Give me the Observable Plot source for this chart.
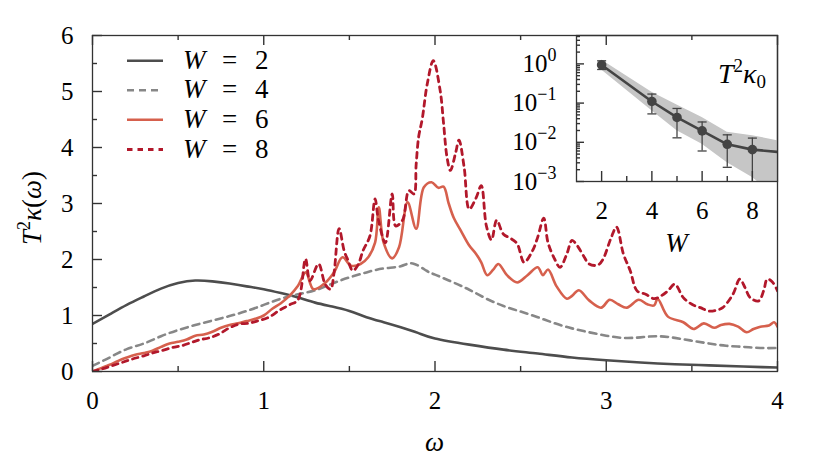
<!DOCTYPE html>
<html><head><meta charset="utf-8">
<script src="https://cdn.jsdelivr.net/npm/d3@7"></script>
<script src="https://cdn.jsdelivr.net/npm/@observablehq/plot@0.6"></script>
<style>
body{margin:0;background:#fff;}
#wrap{position:relative;width:830px;height:466px;overflow:hidden;}
#wrap svg{position:absolute;}
</style></head><body><div id="wrap"></div>
<script>
// ---- main panel data: T^2 kappa(omega) ----
const omegaW2 = [0,0.1,0.2,0.3,0.4,0.5,0.6,0.7,0.8,0.9,1.0,1.1,1.2,1.3,1.4,1.5,1.6,1.7,1.8,1.9,2.0,2.2,2.4,2.6,2.8,3.0,3.2,3.4,3.6,3.8,4.0];
const kappaW2 = [0.85,1.02,1.19,1.34,1.48,1.58,1.625,1.61,1.57,1.52,1.47,1.4,1.32,1.23,1.16,1.08,0.97,0.88,0.79,0.69,0.59,0.48,0.39,0.32,0.25,0.2,0.16,0.13,0.11,0.09,0.07];

const omegaW4 = [0,0.1,0.2,0.3,0.4,0.5,0.6,0.7,0.8,0.9,1.0,1.1,1.2,1.3,1.4,1.5,1.6,1.7,1.8,1.87,1.95,2.0,2.1,2.2,2.3,2.4,2.5,2.6,2.7,2.8,2.9,3.0,3.1,3.2,3.3,3.4,3.5,3.6,3.7,3.8,3.9,4.0];
const kappaW4 = [0.1,0.25,0.4,0.5,0.63,0.74,0.83,0.91,0.99,1.08,1.19,1.3,1.38,1.45,1.57,1.68,1.77,1.84,1.88,1.93,1.8,1.73,1.6,1.46,1.3,1.17,1.07,0.97,0.86,0.77,0.7,0.64,0.6,0.61,0.63,0.6,0.55,0.5,0.46,0.44,0.42,0.42];

const omegaW6 = [0,0.05,0.1,0.15,0.2,0.25,0.3,0.35,0.4,0.45,0.5,0.55,0.6,0.65,0.7,0.75,0.8,0.85,0.9,0.95,1.0,1.05,1.1,1.15,1.2,1.245,1.29,1.35,1.41,1.46,1.51,1.565,1.61,1.65,1.672,1.7,1.75,1.79,1.84,1.89,1.935,1.98,2.02,2.05,2.08,2.11,2.15,2.2,2.24,2.27,2.305,2.34,2.37,2.42,2.48,2.54,2.6,2.63,2.66,2.71,2.77,2.8,2.84,2.9,2.97,3.02,3.07,3.12,3.19,3.24,3.28,3.3,3.36,3.45,3.51,3.57,3.63,3.67,3.72,3.77,3.82,3.86,3.9,3.95,3.98,4.0];
const kappaW6 = [0,0.06,0.12,0.19,0.25,0.3,0.33,0.37,0.44,0.5,0.53,0.57,0.64,0.66,0.71,0.78,0.83,0.86,0.9,0.94,1.0,1.12,1.22,1.35,1.53,1.77,1.47,1.56,1.77,2.04,1.89,1.92,2.04,2.3,2.93,2.3,2.02,2.22,3.02,2.55,3.29,3.38,3.28,3.3,3.0,2.74,2.52,2.25,2.1,1.95,1.72,1.82,1.92,1.72,1.59,1.72,1.86,1.72,1.82,1.52,1.3,1.35,1.45,1.27,1.14,1.28,1.2,1.14,1.28,1.2,1.18,1.3,0.98,0.88,0.76,0.86,0.78,0.83,0.85,0.8,0.7,0.76,0.8,0.82,0.88,0.8];

const omegaW8 = [0,0.06,0.12,0.18,0.23,0.3,0.35,0.4,0.47,0.52,0.58,0.63,0.68,0.74,0.8,0.86,0.91,0.96,1.03,1.09,1.15,1.2,1.244,1.27,1.32,1.36,1.39,1.41,1.44,1.47,1.49,1.52,1.55,1.58,1.62,1.65,1.67,1.71,1.75,1.77,1.81,1.848,1.877,1.89,1.905,1.925,1.955,1.99,2.03,2.05,2.07,2.09,2.12,2.14,2.17,2.2,2.24,2.27,2.3,2.33,2.36,2.4,2.44,2.48,2.52,2.57,2.6,2.635,2.66,2.7,2.73,2.77,2.8,2.83,2.87,2.9,2.95,2.98,3.03,3.06,3.1,3.14,3.18,3.23,3.28,3.32,3.36,3.4,3.45,3.5,3.55,3.6,3.65,3.68,3.74,3.78,3.81,3.84,3.89,3.92,3.94,3.97,4.0];
const kappaW8 = [0,0.05,0.11,0.17,0.22,0.28,0.33,0.37,0.43,0.46,0.52,0.57,0.6,0.67,0.78,0.85,0.86,0.9,0.97,1.09,1.19,1.28,2.01,1.62,1.92,1.55,1.47,1.75,2.55,2.15,2.0,1.8,1.9,2.16,2.42,3.08,2.7,2.3,3.17,2.6,2.7,3.23,3.17,3.7,4.2,4.5,5.14,5.55,5.02,4.43,3.83,3.59,3.9,4.13,3.65,2.9,3.1,3.32,2.6,2.35,2.7,2.45,2.38,2.28,1.95,2.16,2.4,2.74,2.3,2.0,1.86,2.1,2.34,2.25,2.05,1.92,1.9,2.0,2.4,2.58,2.1,1.8,1.44,1.38,1.3,1.35,1.44,1.56,1.32,1.2,1.14,1.08,1.1,1.14,1.38,1.65,1.5,1.32,1.26,1.45,1.65,1.6,1.44];

const seriesNames = ["W = 2","W = 4","W = 6","W = 8"];
const seriesW = [2,4,6,8];
const seriesColors = ["#4d4d4d","#878787","#d6604d","#b2182b"];
const seriesDash = [null,"7,5",null,"5.5,5"];
const seriesWidth = [2.6,2.6,2.6,2.8];
const seriesCurve = ["natural","natural","catmull-rom","catmull-rom"];

const xTicks = [0,1,2,3,4];
const xMinorTicks = [0.5,1.5,2.5,3.5];
const yTicks = [0,1,2,3,4,5,6];
const yMinorTicks = [0.5,1.5,2.5,3.5,4.5,5.5];

// ---- inset data: T^2 kappa_0 vs W ----
const insetW = [2,4,5,6,7,8];
const insetKappa0 = [0.94,0.11,0.043,0.0196,0.0089,0.0065];
const insetErrHi = [1.2,0.17,0.073,0.033,0.0155,0.0128];
const insetErrLo = [0.72,0.053,0.013,0.006,0.0023,0.0005];
const insetLineW = [2,4,5,6,7,8,9];
const insetLineK = [0.94,0.11,0.043,0.0196,0.0089,0.0065,0.0057];
const bandW = [2,4,5,6,7,8,9];
const bandHi = [1.26,0.19,0.089,0.043,0.018,0.0147,0.011];
const bandLo = [0.7,0.064,0.0196,0.0089,0.003,0.00126,0.0004];
const insetXTicks = [2,4,6,8];
const insetXMinor = [3,5,7];
const insetYTicks = [1e-3,1e-2,1e-1,1];
const insetYMinor = [];
for (const e of [-3,-2,-1,0]) for (let m = 2; m <= 9; m++) { const v = m*Math.pow(10,e); if (v < 5.3) insetYMinor.push(v); }

const FONT = '"Liberation Serif","Times New Roman","Noto Serif","DejaVu Serif",serif';
const INK = "#333";
const TICK = "#333";
const TW = 1.4;

const toRows = (om, k) => om.map((w,i) => ({w, k: k[i]}));
const seriesData = [toRows(omegaW2,kappaW2), toRows(omegaW4,kappaW4), toRows(omegaW6,kappaW6), toRows(omegaW8,kappaW8)];

// main frame geometry
const MW = 830, MH = 466, ML = 92, MR = 53, MT = 35, MB = 95;
const FW = MW - ML - MR, FH = MH - MT - MB;
const X0 = 0, X1 = 4, Y0 = 0, Y1 = 6;
const kx = (X1 - X0) / FW, ky = (Y1 - Y0) / FH; // data units per pixel (tick lengths)

const main = Plot.plot({
  width: MW, height: MH,
  marginLeft: ML, marginRight: MR, marginTop: MT, marginBottom: MB,
  style: {fontFamily: FONT, fontSize: "25px", color: "#000", background: "transparent", overflow: "visible"},
  x: {domain: [X0, X1]},
  y: {domain: [Y0, Y1]},
  marks: [
    ...seriesData.map((d,i) => Plot.line(d, {x:"w", y:"k", stroke: seriesColors[i], strokeWidth: seriesWidth[i], strokeDasharray: seriesDash[i], curve: seriesCurve[i], clip: true})),
    Plot.frame({stroke: INK, strokeWidth: 1.3}),
    // inward ticks: bottom, top, left
    Plot.ruleX(xTicks, {x: d => d, y1: Y0, y2: Y0 + 10*ky, stroke: TICK, strokeWidth: TW}),
    Plot.ruleX(xMinorTicks, {x: d => d, y1: Y0, y2: Y0 + 5*ky, stroke: TICK, strokeWidth: TW}),
    Plot.ruleX(xTicks, {x: d => d, y1: Y1 - 10*ky, y2: Y1, stroke: TICK, strokeWidth: TW}),
    Plot.ruleX(xMinorTicks, {x: d => d, y1: Y1 - 5*ky, y2: Y1, stroke: TICK, strokeWidth: TW}),
    Plot.ruleY(yTicks, {y: d => d, x1: X0, x2: X0 + 10*kx, stroke: TICK, strokeWidth: TW}),
    Plot.ruleY(yMinorTicks, {y: d => d, x1: X0, x2: X0 + 5*kx, stroke: TICK, strokeWidth: TW}),
    Plot.axisX({anchor:"bottom", ticks: xTicks, tickSize: 0, tickPadding: 20, label: null, fill: "#000", tickFormat: d => String(d)}),
    Plot.axisY({anchor:"left", ticks: yTicks, tickSize: 0, tickPadding: 19, label: null, fill: "#000", tickFormat: d => String(d)})
  ]
});
d3.select(main).style("left","0px").style("top","0px");
document.getElementById("wrap").appendChild(main);

// axis titles
const ms = d3.select(main);
const xs = main.scale("x"), ys = main.scale("y");
const yl = ms.append("text")
  .attr("transform", `translate(41,${(ys.apply(0)+ys.apply(6))/2 + 5}) rotate(-90)`)
  .attr("text-anchor","middle").attr("font-family",FONT).attr("font-size",27).attr("fill","#000");
yl.append("tspan").attr("font-style","italic").text("T");
yl.append("tspan").attr("dy",-11).attr("font-size",18).text("2");
yl.append("tspan").attr("dy",11).attr("font-style","italic").text("κ");
yl.append("tspan").text("(");
yl.append("tspan").attr("font-style","italic").text("ω");
yl.append("tspan").text(")");
ms.append("text").attr("x",(xs.apply(0)+xs.apply(4))/2).attr("y",451)
  .attr("text-anchor","middle").attr("font-family",FONT).attr("font-size",27).attr("font-style","italic").attr("fill","#000").text("ω");

// legend
const lg = d3.select("#wrap").append("svg").attr("width",830).attr("height",466).style("left","0px").style("top","0px");
const legY = [60.7, 90.3, 119.8, 149.5];
seriesNames.forEach((name,i) => {
  lg.append("line").attr("x1",127).attr("x2",163).attr("y1",legY[i]).attr("y2",legY[i])
    .attr("stroke",seriesColors[i]).attr("stroke-width",seriesWidth[i]).attr("stroke-dasharray",seriesDash[i]);
  const t = lg.append("text").attr("y",legY[i]+8).attr("font-family",FONT).attr("font-size",27).attr("fill","#000");
  t.append("tspan").attr("x",183).attr("font-style","italic").text("W");
  t.append("tspan").attr("x",222).text("=");
  t.append("tspan").attr("x",255).text(String(seriesW[i]));
});

// inset
const pts = insetW.map((W,i) => ({W, k: insetKappa0[i], hi: insetErrHi[i], lo: insetErrLo[i]}));
const band = bandW.map((W,i) => ({W, hi: bandHi[i], lo: bandLo[i]}));
const lineRows = insetLineW.map((W,i) => ({W, k: insetLineK[i]}));
const CAP = 0.18;
const IW = 290, IH = 200, IL = 76, IR = 13, IT = 5, IB = 49;
const IFW = IW - IL - IR, IFH = IH - IT - IB;
const IX0 = 1, IX1 = 9, IY0 = 1e-3, IY1 = 5.3;
const ikx = (IX1 - IX0) / IFW;
const ikyDec = Math.log10(IY1 / IY0) / IFH;
const inset = Plot.plot({
  width: IW, height: IH,
  marginLeft: IL, marginRight: IR, marginTop: IT, marginBottom: IB,
  style: {fontFamily: FONT, fontSize: "25px", color: "#000", background: "transparent", overflow: "visible"},
  x: {domain: [IX0, IX1]},
  y: {type: "log", domain: [IY0, IY1]},
  marks: [
    Plot.areaY(band, {x:"W", y1:"lo", y2:"hi", fill:"#c6c6c6", clip: true}),
    Plot.ruleX(pts, {x:"W", y1:"lo", y2:"hi", stroke:"#444", strokeWidth: 1.3, clip: true}),
    Plot.link(pts, {x1: d => d.W - CAP, x2: d => d.W + CAP, y1:"hi", y2:"hi", stroke:"#444", strokeWidth: 1.3, clip: true}),
    Plot.link(pts.filter(d => d.lo >= 1e-3), {x1: d => d.W - CAP, x2: d => d.W + CAP, y1:"lo", y2:"lo", stroke:"#444", strokeWidth: 1.3, clip: true}),
    Plot.line(lineRows, {x:"W", y:"k", stroke:"#444", strokeWidth: 2.6, clip: true}),
    Plot.dot(pts, {x:"W", y:"k", r: 4.8, fill:"#444", stroke: "none"}),
    Plot.frame({stroke: INK, strokeWidth: 1.3}),
    Plot.ruleX(insetXTicks, {x: d => d, y1: IY0, y2: IY0 * Math.pow(10, 10*ikyDec), stroke: TICK, strokeWidth: TW}),
    Plot.ruleX(insetXMinor, {x: d => d, y1: IY0, y2: IY0 * Math.pow(10, 5*ikyDec), stroke: TICK, strokeWidth: TW}),
    Plot.ruleY(insetYTicks, {y: d => d, x1: IX0, x2: IX0 + 8*ikx, stroke: TICK, strokeWidth: TW}),
    Plot.ruleY(insetYMinor, {y: d => d, x1: IX0, x2: IX0 + 4*ikx, stroke: TICK, strokeWidth: TW}),
    Plot.axisX({anchor:"bottom", ticks: insetXTicks, tickSize: 0, tickPadding: 20, label: null, fill: "#000", tickFormat: d => String(d)}),
    Plot.axisY({anchor:"left", ticks: insetYTicks, tickSize: 0, tickPadding: 20, label: null, fill: "#000",
      tickFormat: d => String(Math.round(Math.log10(d)))})
  ]
});
d3.select(inset).style("left","500px").style("top","30px");
document.getElementById("wrap").appendChild(inset);
const is = d3.select(inset);
// superscript powers of ten on the inset's y tick labels
is.selectAll('g[aria-label="y-axis tick label"] text').each(function() {
  const e = this.textContent.trim();
  if (!e || isNaN(+e)) return;
  const sel = d3.select(this);
  sel.text("");
  sel.append("tspan").text("10");
  sel.append("tspan").attr("dy",-11).attr("font-size",18).text(e.replace("-","−"));
});
const ixs = inset.scale("x");
is.append("text").attr("x",(ixs.apply(1)+ixs.apply(9))/2).attr("y",222)
  .attr("text-anchor","middle").attr("font-family",FONT).attr("font-size",27).attr("font-style","italic").attr("fill","#000").text("W");
const il = is.append("text").attr("x",266).attr("y",53).attr("text-anchor","end")
  .attr("font-family",FONT).attr("font-size",28).attr("fill","#000");
il.append("tspan").attr("font-style","italic").text("T");
il.append("tspan").attr("dy",-11).attr("font-size",19).text("2");
il.append("tspan").attr("dy",11).attr("font-style","italic").text("κ");
il.append("tspan").attr("dy",5).attr("font-size",19).text("0");
</script></body></html>
